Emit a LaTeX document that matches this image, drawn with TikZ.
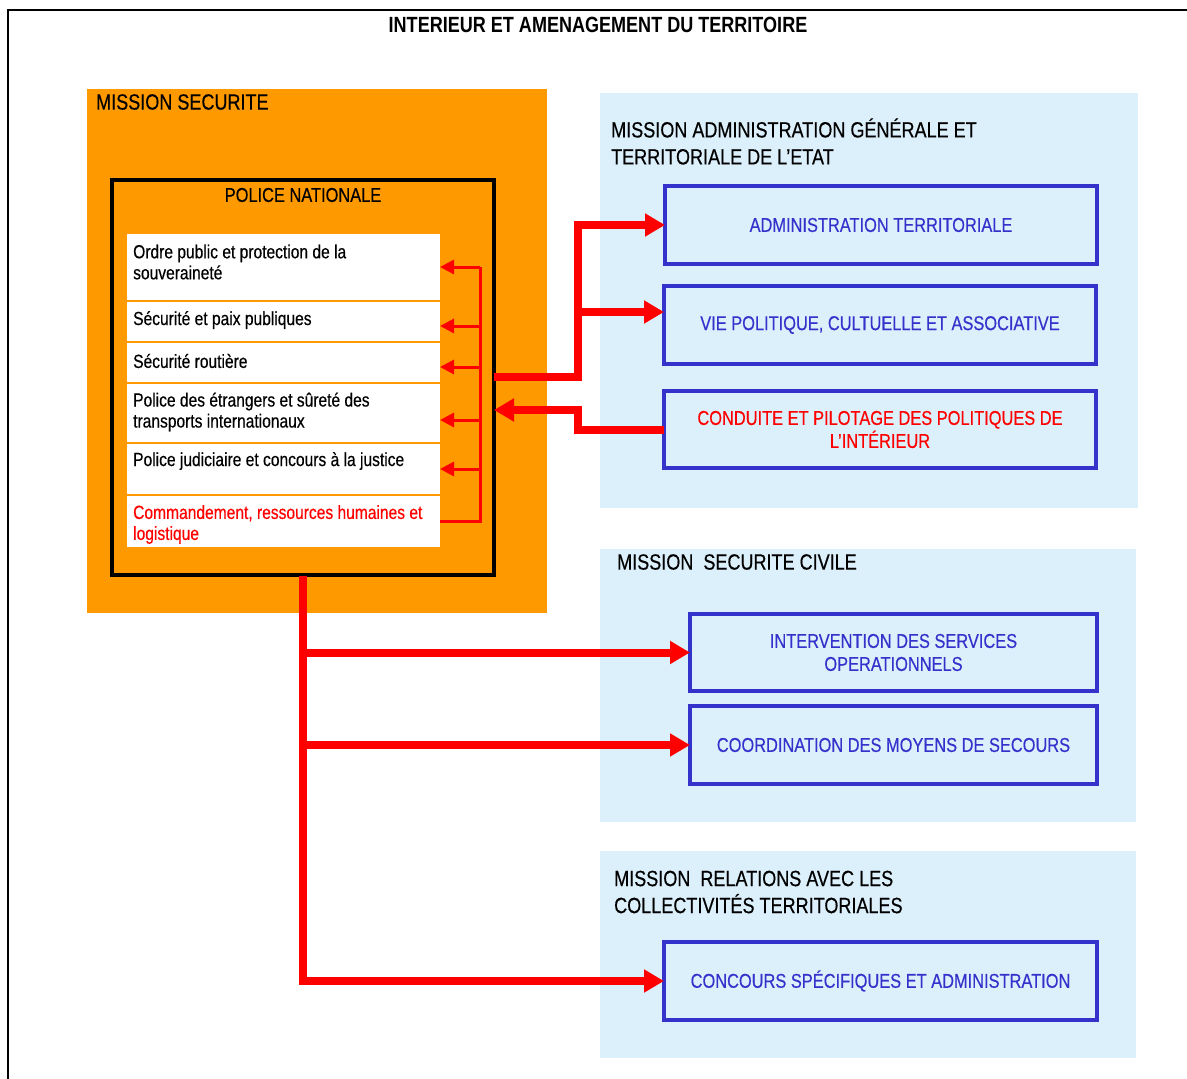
\documentclass[tikz,border=0pt]{standalone}
\usepackage{fontspec}
\setmainfont{Liberation Sans}[FakeStretch=0.82, UprightFeatures={FakeBold=0.4}]
\usetikzlibrary{arrows.meta}
\definecolor{orng}{HTML}{FF9900}
\definecolor{lblue}{HTML}{DCF0FC}
\definecolor{dblue}{HTML}{3333CC}
\definecolor{rred}{HTML}{FF0000}
\begin{document}
\begin{tikzpicture}[x=1pt,y=-1pt,
  area/.style={inner sep=0pt, outer sep=0pt, anchor=north west},
  orangearea/.style={area, fill=orng},
  bluearea/.style={area, fill=lblue},
  policebox/.style={area, draw=black, line width=4pt},
  row/.style={area, fill=white},
  bluebox/.style={area, draw=dblue, line width=4pt, text=dblue, align=center,
     font=\fontsize{20}{23}\selectfont},
  redtext/.style={text=rred},
  titlefont/.style={font=\fontsize{22}{27}\selectfont},
  rowtext/.style={inner sep=0pt, anchor=west, align=left, font=\fontsize{19}{21}\selectfont},
  bigline/.style={draw=rred, line width=8pt},
  bigarrow/.style={bigline, -{Triangle[length=20pt,width=22pt]}},
  thinline/.style={draw=rred, line width=3pt},
  thinarrow/.style={thinline, -{Triangle[length=14pt,width=14pt]}}
]
\useasboundingbox (0,0) rectangle (1187,1079);
\fill[white] (0,0) rectangle (1187,1079);
% outer frame
\draw[line width=2pt] (1187,10) -- (8,10) -- (8,1079);
\node[inner sep=0pt, font=\bfseries\fontsize{22}{27}\selectfont] (title) at (598,25) {INTERIEUR ET AMENAGEMENT DU TERRITOIRE};

% mission securite
\node[orangearea, minimum width=460pt, minimum height=524pt] (orange) at (87,89) {};
\node[inner sep=0pt, anchor=west, titlefont] (mstitle) at (96,102) {MISSION SECURITE};
\node[policebox, minimum width=382pt, minimum height=395pt] (police) at (112,180) {};
\node[inner sep=0pt, font=\fontsize{20}{24}\selectfont] (ptitle) at (303,195) {POLICE NATIONALE};

\node[row, minimum width=313pt, minimum height=66pt] (r1) at (127,234) {};
\node[row, minimum width=313pt, minimum height=39pt] (r2) at (127,302) {};
\node[row, minimum width=313pt, minimum height=39pt] (r3) at (127,343) {};
\node[row, minimum width=313pt, minimum height=58pt] (r4) at (127,384) {};
\node[row, minimum width=313pt, minimum height=50pt] (r5) at (127,444) {};
\node[row, minimum width=313pt, minimum height=51pt] (r6) at (127,496) {};

\node[rowtext] (t1) at (133,262) {Ordre public et protection de la\\souveraineté};
\node[rowtext] (t2) at (133,320) {Sécurité et paix publiques};
\node[rowtext] (t3) at (133,361) {Sécurité routière};
\node[rowtext] (t4) at (133,412) {Police des étrangers et sûreté des\\transports internationaux};
\node[rowtext] (t5) at (133,461) {Police judiciaire et concours à la justice};
\node[rowtext, redtext] (t6) at (133,524.5) {Commandement, ressources humaines et\\logistique};

% blue areas
\node[bluearea, minimum width=538pt, minimum height=415pt] (pA) at (600,93) {};
\node[bluearea, minimum width=536pt, minimum height=273pt] (pB) at (600,549) {};
\node[bluearea, minimum width=536pt, minimum height=207pt] (pC) at (600,851) {};
\node[inner sep=0pt, anchor=west, align=left, titlefont] (pAt) at (611,141.5) {MISSION ADMINISTRATION GÉNÉRALE ET\\TERRITORIALE DE L’ETAT};
\node[inner sep=0pt, anchor=west, align=left, titlefont] (pBt) at (617,562) {MISSION\ \ SECURITE CIVILE};
\node[inner sep=0pt, anchor=west, align=left, titlefont] (pCt) at (614,892) {MISSION\ \ RELATIONS AVEC LES\\COLLECTIVITÉS TERRITORIALES};

\node[bluebox, minimum width=432pt, minimum height=78pt] (adm) at (665,186) {ADMINISTRATION TERRITORIALE};
\node[bluebox, minimum width=432pt, minimum height=78pt] (vie) at (664,286) {VIE POLITIQUE, CULTUELLE ET ASSOCIATIVE};
\node[bluebox, redtext, minimum width=432pt, minimum height=77pt] (cond) at (664,391) {CONDUITE ET PILOTAGE DES POLITIQUES DE\\L’INTÉRIEUR};
\node[bluebox, minimum width=407pt, minimum height=77pt] (interv) at (690,614) {INTERVENTION DES SERVICES\\OPERATIONNELS};
\node[bluebox, minimum width=407pt, minimum height=78pt] (coord) at (690,706) {COORDINATION DES MOYENS DE SECOURS};
\node[bluebox, minimum width=433pt, minimum height=78pt] (conc) at (664,942) {CONCOURS SPÉCIFIQUES ET ADMINISTRATION};

% thin internal arrows
\coordinate (bus) at (480,267);
\coordinate (a2) at ([yshift=-4.5pt]r2.east);
\coordinate (a3) at ([yshift=-4.5pt]r3.east);
\coordinate (a4) at ([yshift=-7pt]r4.east);
\draw[thinline] (r6.east) -| (bus);
\draw[thinarrow] (bus) -- (r1.east);
\draw[thinarrow] (bus |- a2) -- (a2);
\draw[thinarrow] (bus |- a3) -- (a3);
\draw[thinarrow] (bus |- a4) -- (a4);
\draw[thinarrow] (bus |- r5.east) -- (r5.east);

% thick arrows to the right
\coordinate (pOut) at (494,377);
\coordinate (pIn) at (494,410);
\coordinate (kx) at (578,300);
\coordinate (vin) at ([yshift=13pt]vie.west);
\draw[bigarrow] (pOut) -| (kx |- adm.west) -- (adm.west);
\draw[bigarrow] (kx |- vin) -- (vin);
\draw[bigarrow] (cond.west) -| (kx |- pIn) -- (pIn);

% thick arrows downward
\coordinate (pBot) at (303,576);
\draw[bigarrow] (pBot) |- (conc.west);
\draw[bigarrow] (pBot |- interv.west) -- (interv.west);
\draw[bigarrow] (pBot |- coord.west) -- (coord.west);
\end{tikzpicture}
\end{document}
